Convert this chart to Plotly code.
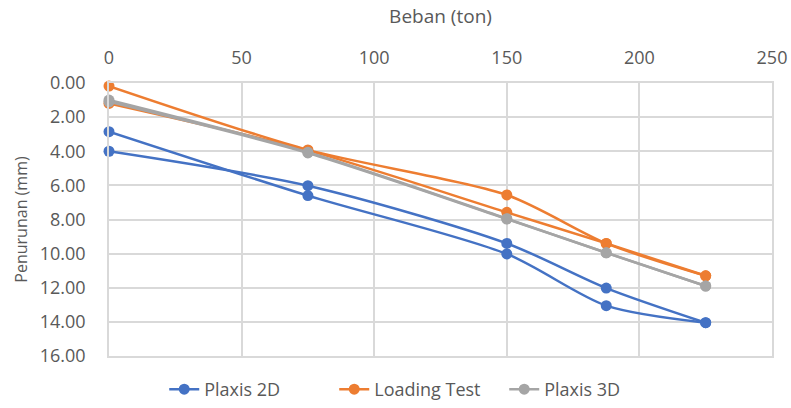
import plotly.graph_objects as go

# Data
beban_naik = [0, 75, 150, 187.5, 225]
beban_turun = [225, 187.5, 150, 75, 0]

plaxis2d_naik = [4.00, 6.02, 9.40, 12.02, 14.05]
plaxis2d_turun = [14.05, 13.05, 10.02, 6.60, 2.85]

loading_naik = [0.18, 3.92, 6.56, 9.40, 11.30]
loading_turun = [11.30, 9.40, 7.58, 3.95, 1.20]

plaxis3d_naik = [1.00, 4.06, 7.95, 9.95, 11.90]
plaxis3d_turun = [11.90, 9.95, 7.97, 4.10, 1.10]

series = [
    ("Plaxis 2D", "#4472C4", plaxis2d_naik, plaxis2d_turun),
    ("Loading Test", "#ED7D31", loading_naik, loading_turun),
    ("Plaxis 3D", "#A5A5A5", plaxis3d_naik, plaxis3d_turun),
]

fig = go.Figure()
for name, color, up, down in series:
    for i, (xs, ys) in enumerate([(beban_naik, up), (beban_turun, down)]):
        fig.add_trace(go.Scatter(
            x=xs, y=ys, name=name, legendgroup=name, showlegend=(i == 0),
            mode="lines+markers", cliponaxis=False,
            line=dict(color=color, width=2.5, shape="spline", smoothing=0.8),
            marker=dict(color=color, size=11),
        ))

font_family = "Open Sans, sans-serif"
grey = "#595959"
fig.update_layout(
    width=791, height=408,
    margin=dict(l=109, r=19, t=83, b=52, autoexpand=False),
    paper_bgcolor="white", plot_bgcolor="white",
    font=dict(family=font_family, size=18, color=grey),
    showlegend=True,
    legend=dict(orientation="h", xref="container", x=0.53, xanchor="center",
                yref="container", y=0.0, yanchor="bottom",
                font=dict(size=18, color=grey),
                entrywidth=125, entrywidthmode="pixels",
                tracegroupgap=0),
    xaxis=dict(
        side="top", range=[0, 250], dtick=50, tick0=0,
        showgrid=True, gridcolor="#D9D9D9", gridwidth=1.5,
        showline=True, linecolor="#D9D9D9", linewidth=1.5, mirror=True,
        zeroline=False, ticks="", ticklabelstandoff=10, automargin=False,
        title=dict(text="Beban (ton)", font=dict(size=19, color=grey), standoff=16),
        tickfont=dict(size=18, color=grey),
    ),
    yaxis=dict(
        range=[16, 0], dtick=2, tick0=0, tickformat=".2f",
        showgrid=True, gridcolor="#D9D9D9", gridwidth=1.5,
        showline=True, linecolor="#D9D9D9", linewidth=1.5, mirror=True,
        zeroline=False, ticks="", ticklabelstandoff=18, automargin=False,
        title=dict(text="Penurunan (mm)", font=dict(size=16, color=grey), standoff=8),
        tickfont=dict(size=18, color=grey),
    ),
)

fig.write_html("out.html")
